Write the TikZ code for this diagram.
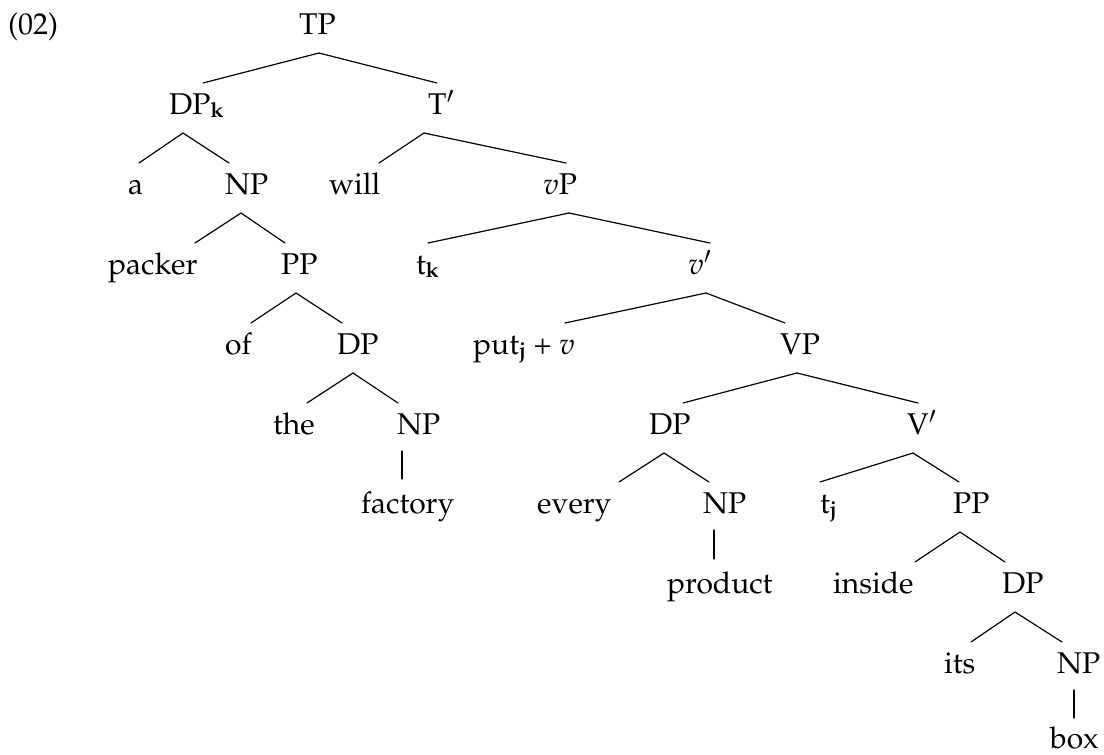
\documentclass[tikz,border=0pt]{standalone}
\usepackage[T1]{fontenc}
\usepackage{mathpazo}
\newcommand\lsub[1]{\raisebox{-3pt}{\fontsize{21}{21}\selectfont\bfseries #1}}
\newcommand\tedge[4]{\draw[br] ([xshift=#2pt,yshift=-19pt]#1.base west) -- ([xshift=#4pt,yshift=31pt]#3.base west);}
\newcommand\vedge[4]{\draw[br] ([xshift=#2pt,yshift=-17pt]#1.base west) -- ([xshift=#4pt,yshift=34pt]#3.base west);}
\tikzset{
  lab/.style={anchor=base west, inner sep=0pt, font=\fontsize{30}{36}\selectfont},
  br/.style={line width=1.2pt, line cap=round}
}
\begin{document}
\begin{tikzpicture}[x=1pt,y=1pt]
\useasboundingbox (0,0) rectangle (1104,-755);
% level 0
\node[lab] (ex) at (8,-34) {(02)};
\node[lab] (TP) at (299,-34) {TP};
% level 1
\node[lab] (DPk) at (169,-114) {DP\lsub{k}};
\node[lab] (Tbar) at (428,-114) {T$'$};
% level 2
\node[lab] (a) at (128,-194) {a};
\node[lab] (NPa) at (225,-194) {NP};
\node[lab] (will) at (329,-194) {will};
\node[lab] (vP) at (543,-194) {$v$P};
% level 3
\node[lab] (packer) at (108,-274) {packer};
\node[lab] (PPa) at (281,-274) {PP};
\node[lab] (tk) at (416,-274) {t\lsub{k}};
\node[lab] (vbar) at (688,-274) {$v'$};
% level 4
\node[lab] (of) at (225,-354) {of};
\node[lab] (DPa) at (337,-354) {DP};
\node[lab] (put) at (473,-354) {put\lsub{j} + $v$};
\node[lab] (VP) at (780,-354) {VP};
% level 5
\node[lab] (the) at (273,-434) {the};
\node[lab] (NPb) at (397,-434) {NP};
\node[lab] (DPb) at (649,-434) {DP};
\node[lab] (Vbar) at (907,-434) {V$'$};
% level 6
\node[lab] (factory) at (361,-513) {factory};
\node[lab] (every) at (537,-513) {every};
\node[lab] (NPc) at (703,-513) {NP};
\node[lab] (tj) at (820,-513) {t\lsub{j}};
\node[lab] (PPb) at (953,-513) {PP};
% level 7
\node[lab] (product) at (667,-593) {product};
\node[lab] (inside) at (833,-593) {inside};
\node[lab] (DPc) at (1002,-593) {DP};
% level 8
\node[lab] (its) at (944,-673) {its};
\node[lab] (NPd) at (1057,-673) {NP};
% level 9
\node[lab] (box) at (1050,-748) {box};
% edges
\tedge{TP}{20}{DPk}{34}
\tedge{TP}{20}{Tbar}{9}
\tedge{DPk}{14}{a}{11}
\tedge{DPk}{14}{NPa}{4}
\tedge{Tbar}{-4}{will}{50}
\tedge{Tbar}{-4}{vP}{23}
\tedge{NPa}{16}{packer}{87}
\tedge{NPa}{16}{PPa}{4}
\tedge{vP}{26}{tk}{12}
\tedge{vP}{26}{vbar}{22}
\tedge{PPa}{15}{of}{26}
\tedge{PPa}{15}{DPa}{5}
\tedge{vbar}{18}{put}{92}
\tedge{vbar}{18}{VP}{5}
\tedge{DPa}{16}{the}{34}
\tedge{DPa}{16}{NPb}{1}
\tedge{VP}{17}{DPb}{34}
\tedge{VP}{17}{Vbar}{11}
\vedge{NPb}{5}{factory}{41}
\tedge{DPb}{15}{every}{82}
\tedge{DPb}{15}{NPc}{6}
\tedge{Vbar}{6}{tj}{0}
\tedge{Vbar}{6}{PPb}{6}
\vedge{NPc}{11}{product}{47}
\tedge{PPb}{7}{inside}{82}
\tedge{PPb}{7}{DPc}{3}
\tedge{DPc}{13}{its}{27}
\tedge{DPc}{13}{NPd}{5}
\draw[br] ([xshift=17pt,yshift=-17pt]NPd.base west) -- ([xshift=24pt,yshift=30pt]box.base west);
\end{tikzpicture}
\end{document}
